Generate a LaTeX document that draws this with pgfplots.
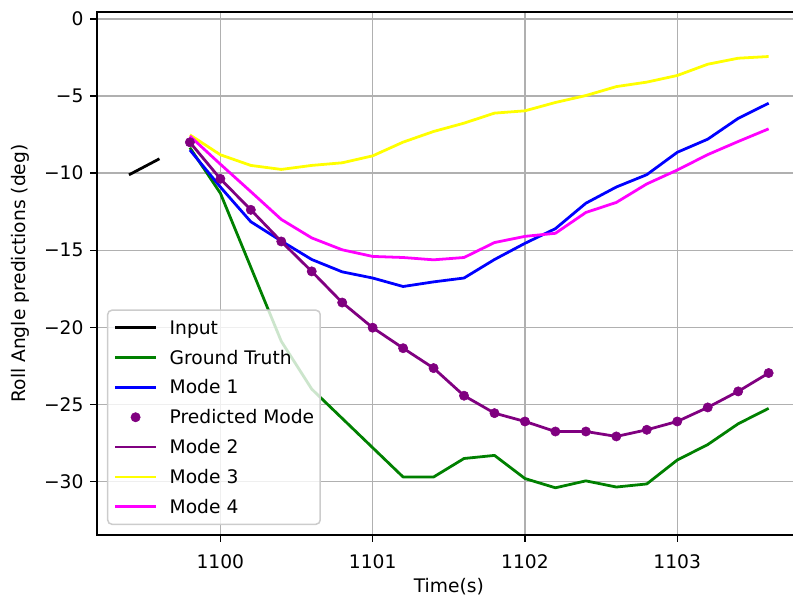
\documentclass[border=0pt]{standalone}
\usepackage{pgfplots}
\pgfplotsset{compat=1.18}
\usepackage{pgfplotstable}
\usepackage{fontspec}
\setmainfont{DejaVu Sans}
\usetikzlibrary{calc}

\definecolor{mplgreen}{HTML}{008000}
\definecolor{mplpurple}{HTML}{800080}
\definecolor{mplblue}{HTML}{0000FF}
\definecolor{mplyellow}{HTML}{FFFF00}
\definecolor{mplmagenta}{HTML}{FF00FF}
\definecolor{gridgray}{HTML}{B0B0B0}
\definecolor{legendedge}{HTML}{CCCCCC}

% observed input window
\pgfplotstableread{
t      roll
1099.4 -10.11
1099.6 -9.07
}\inputdata

% ground truth over the prediction horizon
\pgfplotstableread{
t      roll
1099.8 -8.35
1100.0 -11.3
1100.2 -16.1
1100.4 -20.9
1100.6 -24.0
1100.8 -25.9
1101.0 -27.8
1101.2 -29.7
1101.4 -29.7
1101.6 -28.5
1101.8 -28.3
1102.0 -29.8
1102.2 -30.4
1102.4 -29.95
1102.6 -30.35
1102.8 -30.15
1103.0 -28.6
1103.2 -27.6
1103.4 -26.25
1103.6 -25.25
}\gtdata

\pgfplotstableread{
t      roll
1099.8 -8.5
1100.0 -10.9
1100.2 -13.15
1100.4 -14.4
1100.6 -15.6
1100.8 -16.4
1101.0 -16.8
1101.2 -17.35
1101.4 -17.05
1101.6 -16.8
1101.8 -15.6
1102.0 -14.55
1102.2 -13.6
1102.4 -11.95
1102.6 -10.9
1102.8 -10.1
1103.0 -8.65
1103.2 -7.8
1103.4 -6.45
1103.6 -5.47
}\modeone

\pgfplotstableread{
t      roll
1099.8 -8.0
1100.0 -10.37
1100.2 -12.38
1100.4 -14.43
1100.6 -16.37
1100.8 -18.39
1101.0 -20.02
1101.2 -21.35
1101.4 -22.64
1101.6 -24.43
1101.8 -25.56
1102.0 -26.1
1102.2 -26.75
1102.4 -26.75
1102.6 -27.07
1102.8 -26.64
1103.0 -26.1
1103.2 -25.19
1103.4 -24.15
1103.6 -22.96
}\modetwo

\pgfplotstableread{
t      roll
1099.8 -7.52
1100.0 -8.81
1100.2 -9.5
1100.4 -9.76
1100.6 -9.5
1100.8 -9.33
1101.0 -8.88
1101.2 -7.99
1101.4 -7.3
1101.6 -6.76
1101.8 -6.11
1102.0 -5.96
1102.2 -5.42
1102.4 -4.97
1102.6 -4.39
1102.8 -4.1
1103.0 -3.67
1103.2 -2.94
1103.4 -2.55
1103.6 -2.44
}\modethree

\pgfplotstableread{
t      roll
1099.8 -7.6
1100.0 -9.42
1100.2 -11.2
1100.4 -13.0
1100.6 -14.2
1100.8 -14.97
1101.0 -15.4
1101.2 -15.47
1101.4 -15.62
1101.6 -15.47
1101.8 -14.5
1102.0 -14.1
1102.2 -13.9
1102.4 -12.55
1102.6 -11.9
1102.8 -10.7
1103.0 -9.8
1103.2 -8.8
1103.4 -7.95
1103.6 -7.13
}\modefour

\begin{document}
\begin{tikzpicture}
\begin{axis}[
  name=ax,
  scale only axis,
  width=506.6bp, height=376.6bp,
  xmin=1099.19, xmax=1103.81,
  ymin=-33.46, ymax=0.45,
  xtick={1100,1101,1102,1103},
  xticklabels={1100,1101,1102,1103},
  ytick={-30,-25,-20,-15,-10,-5,0},
  yticklabels={−30,−25,−20,−15,−10,−5,0},
  tick pos=left,
  tick align=outside,
  major tick length=4.7bp,
  tick style={black, line width=1.08bp},
  grid=major,
  major grid style={gridgray, line width=1.08bp},
  axis line style={black, line width=1.08bp},
  ticklabel style={font=\fontsize{13.5}{16}\selectfont},
  xticklabel style={yshift=-6bp},
  yticklabel style={xshift=-1.5bp},
  label style={font=\fontsize{13.5}{16}\selectfont},
  xlabel={Time(s)},
  ylabel={Roll Angle predictions (deg)},
  ylabel style={yshift=3.6bp},
  legend cell align=left,
  legend style={
    at={(axis description cs:0.0142,0.0191)}, anchor=south west,
    draw=legendedge, line width=1.08bp, rounded corners=3bp,
    fill=white, fill opacity=0.8, text opacity=1,
    font=\fontsize{13.5}{16}\selectfont,
    inner xsep=4.3bp, inner ysep=4.3bp,
    row sep=5bp,
    nodes={inner sep=0pt, text height=13bp, text depth=3.5bp},
    /tikz/every odd column/.append style={column sep=8.8bp},
  },
  legend image code/.code={%
    \draw[mark repeat=2, mark phase=2, #1, fill opacity=1]
      plot coordinates {(0bp,0bp) (14.75bp,0bp) (29.5bp,0bp)};},
]
\addplot[black, line width=2bp, line join=round, no marks] table[x=t, y=roll] {\inputdata};
\addlegendentry{Input}
\addplot[mplgreen, line width=2bp, line join=round, no marks] table[x=t, y=roll] {\gtdata};
\addlegendentry{Ground Truth}
\addplot[mplblue, line width=2bp, line join=round, no marks] table[x=t, y=roll] {\modeone};
\addlegendentry{Mode 1}
\addplot[only marks, mark=*, mark size=3.35bp, draw=mplpurple, fill=mplpurple, mark options={line width=0.4bp}] table[x=t, y=roll] {\modetwo};
\addlegendentry{Predicted Mode}
\addplot[mplpurple, line width=2bp, line join=round, no marks] table[x=t, y=roll] {\modetwo};
\addlegendentry{Mode 2}
\addplot[mplyellow, line width=2bp, line join=round, no marks] table[x=t, y=roll] {\modethree};
\addlegendentry{Mode 3}
\addplot[mplmagenta, line width=2bp, line join=round, no marks] table[x=t, y=roll] {\modefour};
\addlegendentry{Mode 4}
\end{axis}
\pgfresetboundingbox
\useasboundingbox ($(ax.south west)+(-69.84bp,-46.08bp)$) rectangle ($(ax.south west)+(501.12bp,385.2bp)$);
\end{tikzpicture}
\end{document}
